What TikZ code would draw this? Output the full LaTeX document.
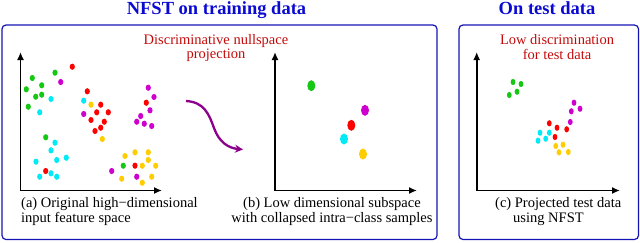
\documentclass[tikz,border=0pt]{standalone}
\usepackage{fontspec}
\setmainfont{Liberation Serif}
\usetikzlibrary{arrows.meta}
\definecolor{cgreen}{RGB}{20,200,20}
\definecolor{cred}{RGB}{255,0,0}
\definecolor{cmag}{RGB}{205,0,205}
\definecolor{ccyan}{RGB}{0,235,245}
\definecolor{cyel}{RGB}{255,205,0}
\definecolor{tblue}{RGB}{10,10,210}
\definecolor{fblue}{RGB}{20,20,180}
\definecolor{tred}{RGB}{195,10,10}
\definecolor{cpurple}{RGB}{140,0,140}
\tikzset{
  frame/.style={draw=fblue, line width=1.2pt, rounded corners=4pt},
  title/.style={text=tblue, font=\fontsize{18.5}{20}\selectfont\bfseries, inner sep=0pt, anchor=base},
  note/.style={text=tred, font=\fontsize{14.5}{14.5}\selectfont, align=center, inner sep=0pt, anchor=north},
  caption/.style={text=black, font=\fontsize{14.5}{15}\selectfont, inner sep=0pt, anchor=north west, align=left},
  axis/.style={line width=1.8pt, -{Latex[length=8pt,width=7pt]}},
}
\begin{document}
\begin{tikzpicture}[x=1pt,y=-1pt]
\useasboundingbox (0,0) rectangle (640,242);
% frames
\draw[frame] (2,25) rectangle (437,239.5);
\draw[frame] (459,25) rectangle (638.5,239.5);
% titles
\node[title] (t1) at (216.5,14) {NFST on training data};
\node[title] (t2) at (547,14) {On test data};
% red notes
\node[note] (n1) at (216,34) {Discriminative nullspace\\projection};
\node[note] (n2) at (557,34.5) {Low discrimination\\for test data};
% axes panel a
\coordinate (oa) at (20.5,190.5);
\coordinate (ya) at (20.5,52);
\coordinate (xa) at (162,190.5);
\draw[axis] (oa) -- (ya);
\draw[axis] (oa) -- (xa);
% axes panel b
\coordinate (ob) at (275,190.5);
\coordinate (yb) at (275,52);
\coordinate (xb) at (417,190.5);
\draw[axis] (ob) -- (yb);
\draw[axis] (ob) -- (xb);
% axes panel c
\coordinate (oc) at (476.7,190.5);
\coordinate (yc) at (476.7,52);
\coordinate (xc) at (620,190.5);
\draw[axis] (oc) -- (yc);
\draw[axis] (oc) -- (xc);
% panel a dots
\foreach \x/\y in {32.3/78,41.7/85.3,26.3/89.3,35.7/96.7,41.7/94.7,28.3/106.7,55/72.7,45.7/137.3,123.3/165.7}
  \fill[cgreen] (\x,\y) ellipse (2.6pt and 3.1pt);
\foreach \x/\y in {72.3/66.7,87.3/91.3,100.7/104.7,96.7/112.3,108.3/112.3,91/120,104.3/121.7,100.7/127.7,95/131,146.3/102.7,45.7/171,135/165.7}
  \fill[cred] (\x,\y) ellipse (2.6pt and 3.1pt);
\foreach \x/\y in {60.7/82,83.7/114,148.3/87.7,154/97,150/110.3,140.7/116,136.7/121.7,144.3/123.7,151.7/126,111.7/171,136.7/176.7}
  \fill[cmag] (\x,\y) ellipse (2.6pt and 3.1pt);
\foreach \x/\y in {51/99,39.7/112.3,83.7/100.7,55/142.7,51/150.3,56.7/160,66.3/157.7,36/161.7,51/173.3,56.7/176.7,39.7/176.7}
  \fill[ccyan] (\x,\y) ellipse (2.6pt and 3.1pt);
\foreach \x/\y in {91/104.7,102.3/139,125/156,135/152.3,148.3/152.3,148.3/160,142.3/165.7,155.7/165.7,121.7/178.7,142.3/182.7,151.7/176.7}
  \fill[cyel] (\x,\y) ellipse (2.6pt and 3.1pt);
% panel b dots
\fill[cgreen] (311.3,85.7) ellipse (4pt and 5.5pt);
\fill[cmag] (365,110.3) ellipse (4pt and 5.5pt);
\fill[cred] (351.3,125.3) ellipse (4pt and 5.5pt);
\fill[ccyan] (344,139) ellipse (4pt and 5.5pt);
\fill[cyel] (363,154) ellipse (4pt and 5.5pt);
% panel c dots
\foreach \x/\y in {513/82,521/84,517/91.7,509.3/95}
  \fill[cgreen] (\x,\y) ellipse (2.4pt and 3.1pt);
\foreach \x/\y in {574/102.7,580/108.7,571.3/111.3,570.3/122}
  \fill[cmag] (\x,\y) ellipse (2.4pt and 3.1pt);
\foreach \x/\y in {549.3/123.3,557/127.7,566.7/129.3,555/137}
  \fill[cred] (\x,\y) ellipse (2.4pt and 3.1pt);
\foreach \x/\y in {540/132.7,549.3/132.7,545.7/138.7,538/140.7}
  \fill[ccyan] (\x,\y) ellipse (2.4pt and 3.1pt);
\foreach \x/\y in {555.7/146,563/144.7,559/152.3,568.3/152}
  \fill[cyel] (\x,\y) ellipse (2.4pt and 3.1pt);
% projection arrow
\coordinate (ps) at (186,101);
\coordinate (pe) at (243,149.5);
\draw[cpurple, line width=2.3pt, -{Stealth[length=8pt,width=8pt]}]
  (ps) .. controls (204,102) and (209,114) .. (214,128)
       .. controls (219,142) and (228,148) .. (pe);
% captions
\node[caption] (ca) at (21,197.5) {(a) Original high−dimensional\\input feature space};
\node[caption, anchor=north, align=center] (cb) at (332,197.5) {(b) Low dimensional subspace\\with collapsed intra−class samples};
\node[caption] (cc) at (495,197.5) {(c) Projected test data\\\hspace*{18pt}using NFST};
\end{tikzpicture}
\end{document}
